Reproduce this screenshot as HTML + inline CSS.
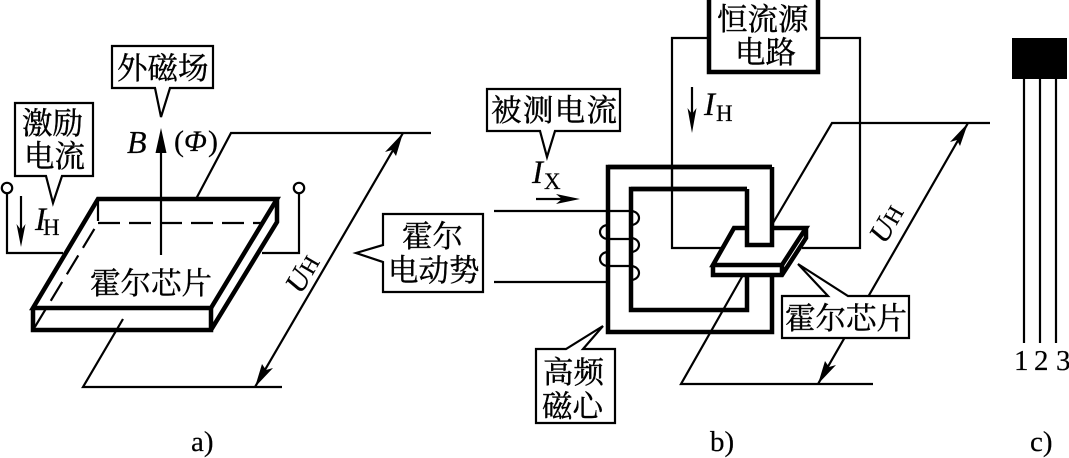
<!DOCTYPE html>
<html><head><meta charset="utf-8"><style>
html,body{margin:0;padding:0;background:#fff}
svg{display:block}
.c{font-family:"Liberation Serif","Noto Serif CJK SC",serif;font-size:30.500px;fill:#000;stroke:#000;stroke-width:.4px}
.t{font-family:"Liberation Serif",serif;fill:#000;stroke:#000;stroke-width:.2px}
.i{font-style:italic}
</style></head><body>
<svg width="1069" height="458" viewBox="0 0 1069 458" xmlns="http://www.w3.org/2000/svg">
<rect width="1069" height="458" fill="#fff"/>
<g fill="none" stroke="#000" stroke-width="2.2" stroke-linejoin="miter">
<!-- a) -->
<path d="M196 199L231 133H431"/>
<path d="M123 319L83 387H282"/>
<path d="M403 133L255 387"/>
<path d="M7 193V253H63M299 193V253H262"/>
<circle cx="7" cy="188" r="5.2"/>
<circle cx="299" cy="188" r="5.2"/>
<path d="M21 196V235"/>
<path d="M161 255V150"/>
<path d="M98 223H262" stroke-dasharray="22 9"/>
<path d="M98 199V223L33 330" stroke-dasharray="22 9"/>
<path d="M98 199H277L211 308H33Z" stroke-width="4.500"/>
<path d="M33 308V330H211V308M277 199V222L211 330" stroke-width="4.500"/>
<!-- b) wires -->
<path d="M709 38H672V248H730M818 38H860V248H802"/>
<path d="M692 87V120M536 199H565"/>
<path d="M773 223L832 123H990M743 275L681 384H873M968 123L818 384"/>
<path d="M494 211H631M494 282H608M608 239H631M608 266H631"/>
<path d="M631 211A8 7 0 0 1 631 225M631 238A8 7 0 0 1 631 252M631 266A8 7 0 0 1 631 280"/>
<path d="M608 225A8 7 0 0 0 608 239M608 252A8 7 0 0 0 608 266"/>
<!-- core lower and left part -->
<path d="M772 275V332H608V167H772M747 275V310H631V189H747" stroke-width="4.500"/>
<!-- chip b -->
<path d="M782 265L806 228V238L782 275H713V265Z" fill="#fff" stroke="none"/>
<path d="M734 228H806L782 265H713Z" stroke-width="4.500" fill="#fff"/>
<path d="M713 265V275H782L806 238V228M782 265V275" stroke-width="4.500"/>
<!-- upper leg over chip -->
<path d="M747 189V245H772V167" stroke-width="4.500" fill="#fff"/>
<path d="M772 167H608" stroke-width="4.500"/>
<path d="M631 189H747" stroke-width="4.500"/>
<path d="M672 167V189"/>
</g>
<!-- arrowheads -->
<g fill="#000">
<path d="M161 128L155.500 153H166.500Z"/>
<path d="M21 247L16.500 224L21 230L25.500 224Z"/>
<path d="M692 133L687.500 108L692 114L696.500 108Z"/>
<path d="M580 199L556 194L562 199L556 204Z"/>
<path d="M403 133L396 156L392 150L385 152Z"/>
<path d="M255 387L262 364L266 370L273 368Z"/>
<path d="M968 123L960 146L957 140L950 142Z"/>
<path d="M818 384L825 361L829 367L836 365Z"/>
</g>
<!-- callouts -->
<g fill="#fff" stroke="#000" stroke-width="2.2" stroke-linejoin="miter">
<path d="M112 46H213V88H170L161 117L155 88H112Z"/>
<path d="M15 103H93V176H62L53 203L46 176H15Z"/>
<path d="M383 214H483V292H383V262L356 253L383 245Z"/>
<path d="M487 89H620V131H555L547 157L540 131H487Z"/>
<path d="M536 349H566L603 326L583 349H615V423H536Z"/>
<path d="M782 296H828L798 264L848 296H909V338H782Z"/>
<path d="M709 -4H818V72H709Z" stroke-width="4.500"/>
</g>
<!-- c) -->
<rect x="1012" y="38" width="55" height="41" fill="#000"/>
<path d="M1024 79V343M1040 79V343M1056 79V343" stroke="#000" stroke-width="2.200" fill="none"/>
<!-- Chinese labels -->
<g class="c">
<text x="117" y="79">外磁场</text>
<text x="22" y="134">激励</text>
<text x="24" y="167">电流</text>
<text x="90" y="294">霍尔芯片</text>
<text x="402" y="247">霍尔</text>
<text x="388" y="281">电动势</text>
<text x="717" y="30">恒流源</text>
<text x="735" y="63">电路</text>
<text x="491" y="121" textLength="126" lengthAdjust="spacing">被测电流</text>
<text x="543" y="383">高频</text>
<text x="542" y="417">磁心</text>
<text x="785" y="329">霍尔芯片</text>
</g>
<!-- Latin labels -->
<g class="t">
<text x="127" y="153" font-size="32" class="i">B</text>
<text x="174" y="151" font-size="30">(</text><text x="184" y="151" font-size="30" class="i">Φ</text><text x="208" y="151" font-size="30">)</text>
<text x="35" y="230" font-size="33" class="i">I</text>
<text x="43" y="235" font-size="23">H</text>
<text x="704" y="115" font-size="33" class="i">I</text>
<text x="716" y="121" font-size="23">H</text>
<text x="532" y="183" font-size="33" class="i">I</text>
<text x="544" y="189" font-size="23">X</text>
<g transform="translate(303 272) rotate(-60)"><text x="-21" y="10" font-size="30" class="i">U</text><text x="1" y="10" font-size="23">H</text></g>
<g transform="translate(887 222) rotate(-60)"><text x="-21" y="10" font-size="30" class="i">U</text><text x="1" y="10" font-size="23">H</text></g>
<text x="1014" y="370" font-size="29">1</text>
<text x="1034" y="370" font-size="29">2</text>
<text x="1056" y="370" font-size="29">3</text>
<text x="191" y="451" font-size="29">a)</text>
<text x="710" y="451" font-size="29">b)</text>
<text x="1030" y="451" font-size="29">c)</text>
</g>
</svg>
</body></html>
